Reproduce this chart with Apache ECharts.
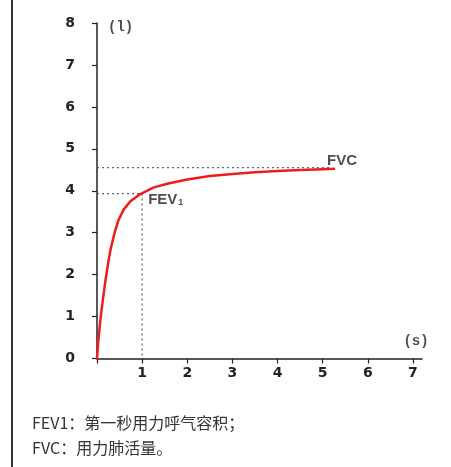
<!DOCTYPE html>
<html>
<head>
<meta charset="utf-8">
<script src="https://cdn.jsdelivr.net/npm/echarts@6/dist/echarts.min.js"></script>
<style>
html,body{margin:0;padding:0;background:#fff;}
#c{width:451px;height:467px;}
</style>
</head>
<body>
<div id="c"></div>
<script>
// Data
var timeS   = [0, 0.03, 0.075, 0.13, 0.19, 0.26, 0.3, 0.39, 0.48, 0.59, 0.74, 0.96, 1.26, 1.6, 2.0, 2.5, 3.0, 3.5, 4.0, 4.5, 5.0, 5.25];
var volumeL = [0, 0.44, 0.92, 1.4, 1.88, 2.36, 2.6, 3.0, 3.31, 3.55, 3.75, 3.92, 4.08, 4.18, 4.27, 4.35, 4.4, 4.44, 4.47, 4.495, 4.515, 4.525];
var fev1Time = 1.0;
var fev1Value = 3.93;
var fvcValue = 4.55;
var fvcEndTime = 5.2;
var xMax = 7.2;
var yMax = 8;
var xTickValues = [0, 1, 2, 3, 4, 5, 6, 7];
var noteLines = ['FEV1：第一秒用力呼气容积；', 'FVC：用力肺活量。'];
var unitX = '(s)';
var unitY = '(l)';

var curve = timeS.map(function (t, i) { return [t, volumeL[i]]; });
var fev1Guide = [[0, fev1Value], [fev1Time, fev1Value], [fev1Time, 0]];
var fvcGuide = [[0, fvcValue], [fvcEndTime, fvcValue]];

var axisColor = '#222';
var labelColor = '#222';
var monoStyle = {fontFamily: '"Liberation Mono", monospace', fontWeight: 'bold', fontSize: 14, color: labelColor};
var chart = echarts.init(document.getElementById('c'), null, {renderer: 'canvas'});
chart.setOption({
  animation: false,
  backgroundColor: '#fff',
  title: {
    text: noteLines.join('\n'),
    left: 27,
    top: 405,
    textStyle: {
      fontFamily: '"Noto Sans CJK SC", sans-serif',
      fontSize: 16,
      fontWeight: 'normal',
      color: '#333',
      lineHeight: 25
    }
  },
  graphic: [{
    type: 'rect',
    shape: {x: 11, y: 0, width: 2, height: 467},
    style: {fill: '#333'},
    silent: true
  }],
  grid: {left: 97, top: 23, right: 29, bottom: 108.5},
  xAxis: {
    type: 'value',
    min: 0,
    max: xMax,
    interval: 1,
    splitLine: {show: false},
    axisLine: {lineStyle: {color: axisColor, width: 1.5}},
    axisTick: {customValues: xTickValues, length: 5, lineStyle: {color: axisColor, width: 1.2}},
    axisLabel: {
      customValues: xTickValues.slice(1),
      margin: 8,
      color: labelColor,
      fontFamily: '"DejaVu Sans", sans-serif',
      fontWeight: 'bold',
      fontSize: 14
    }
  },
  yAxis: {
    type: 'value',
    min: 0,
    max: yMax,
    interval: 1,
    splitLine: {show: false},
    axisLine: {show: true, lineStyle: {color: axisColor, width: 1.5}},
    axisTick: {show: true, length: 5, lineStyle: {color: axisColor, width: 1.2}},
    axisLabel: {
      margin: 22,
      padding: [0, 0, 6, 0],
      color: labelColor,
      fontFamily: '"DejaVu Sans", sans-serif',
      fontWeight: 'bold',
      fontSize: 14
    }
  },
  series: [
    {
      type: 'line',
      data: fvcGuide,
      symbol: 'none',
      lineStyle: {color: '#666', width: 1.3, type: [2, 3]},
      silent: true,
      z: 1
    },
    {
      type: 'line',
      data: fev1Guide,
      symbol: 'none',
      lineStyle: {color: '#666', width: 1.3, type: [2, 3]},
      silent: true,
      z: 1
    },
    {
      type: 'line',
      data: curve,
      smooth: false,
      symbol: 'none',
      lineStyle: {color: '#ee1c1c', width: 2.5, join: 'round', cap: 'round'},
      z: 3
    },
    {
      type: 'scatter',
      symbolSize: 0,
      silent: true,
      data: [
        {value: [fev1Time, fev1Value], label: {
          show: true, position: 'right', offset: [1, 6],
          formatter: '{a|FEV}{b|1}',
          rich: {
            a: {fontFamily: '"Liberation Sans", Arial, sans-serif', fontWeight: 'bold', fontSize: 15, color: '#222'},
            b: {fontFamily: '"Liberation Sans", Arial, sans-serif', fontWeight: 'bold', fontSize: 9, color: '#222', verticalAlign: 'bottom', padding: [6, 0, 0, 1]}
          }
        }},
        {value: [timeS[timeS.length - 1], fvcValue], label: {
          show: true, position: 'top', offset: [8, 6],
          formatter: 'FVC',
          fontFamily: '"Liberation Sans", Arial, sans-serif', fontWeight: 'bold', fontSize: 15, color: '#222'
        }},
        {value: [0, yMax], label: Object.assign({
          show: true, position: 'right', offset: [6, 4], formatter: unitY
        }, monoStyle)},
        {value: [xMax, 0], label: Object.assign({
          show: true, position: 'top', offset: [-6, -5], formatter: unitX
        }, monoStyle)}
      ]
    }
  ]
});
</script>
</body>
</html>
